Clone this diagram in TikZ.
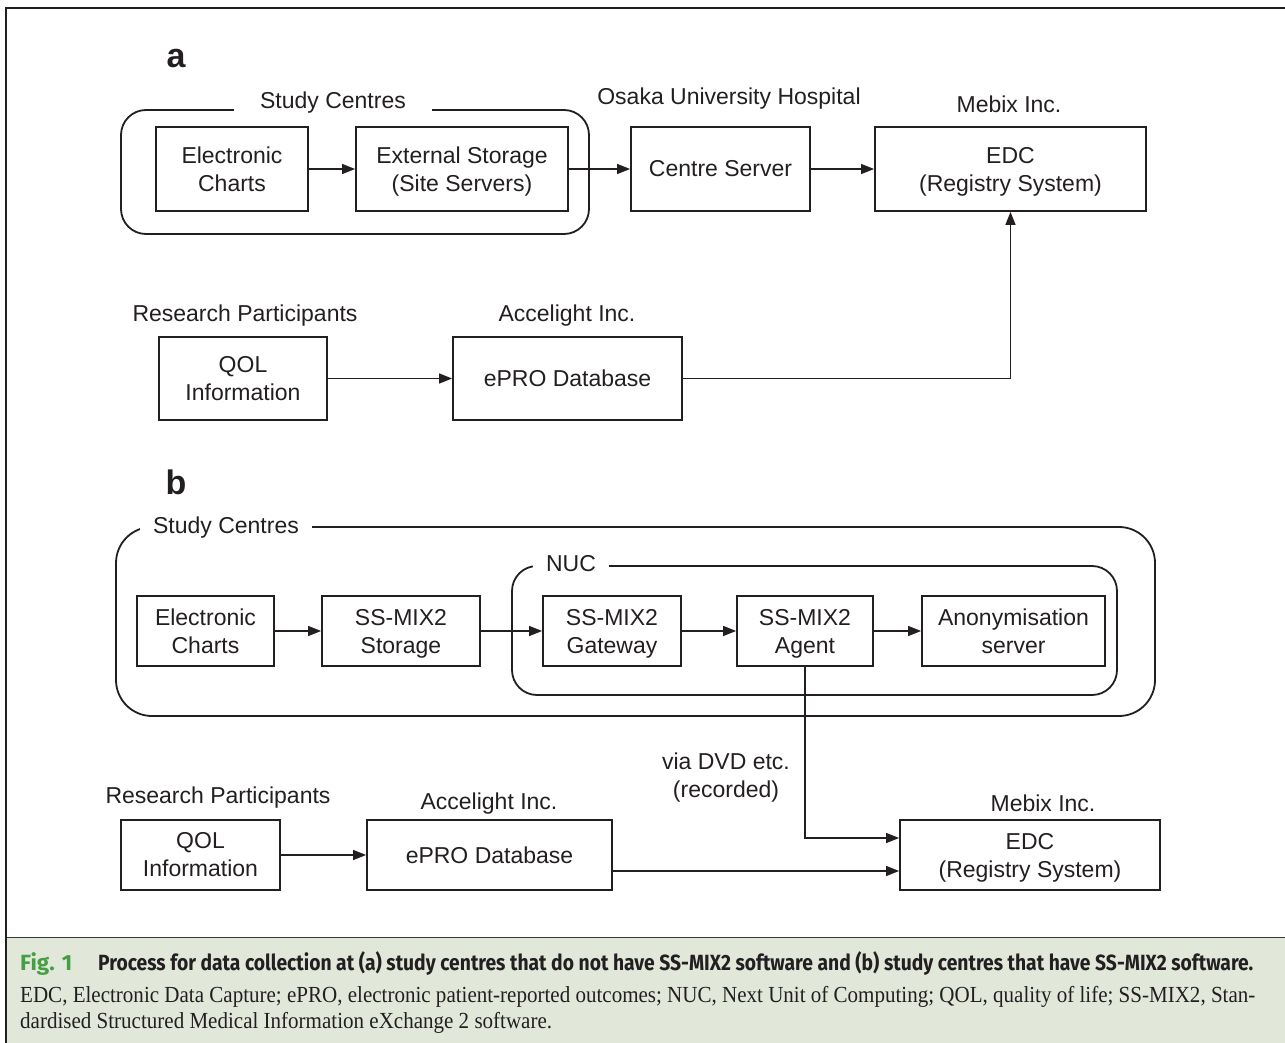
\documentclass[tikz,border=0pt]{standalone}
\usepackage{fontspec}
\usepackage{graphicx}
\setmainfont{Liberation Sans}
\newfontfamily\capserif{Liberation Serif}
\newfontfamily\capsans{Fira Sans}
\usetikzlibrary{arrows.meta}
\definecolor{capbg}{RGB}{225,232,218}
\definecolor{figgreen}{RGB}{70,158,68}
\definecolor{ink}{RGB}{35,31,32}
\newcommand\nodp[1]{\raisebox{0pt}[\height][0pt]{#1}}
\begin{document}
\begin{tikzpicture}[x=1pt,y=-1pt,
  every node/.style={text=ink},
  box/.style={draw=ink, line width=1.8pt, inner sep=0pt, align=center,
    font=\fontsize{23}{28}\selectfont},
  cont/.style={draw=ink, line width=1.8pt, inner sep=0pt, rounded corners=#1},
  lbl/.style={font=\fontsize{23}{28}\selectfont, inner sep=0pt, align=center},
  gaplbl/.style={lbl, fill=white, inner xsep=#1, inner ysep=2pt},
  panel/.style={font=\fontsize{34}{40}\selectfont\bfseries, inner sep=0pt, anchor=base},
  flow/.style={draw=ink, line width=1.4pt, -{Triangle[length=13pt,width=10pt]}}
]
\useasboundingbox (0,0) rectangle (1285,1043);
% frame and caption panel
\fill[capbg] (6,938) rectangle (1285,1043);
\draw[draw=ink!90, line width=1.2pt] (6,937.5) -- (1285,937.5);
\draw[draw=ink, line width=2pt] (1285,8) -- (6,8) -- (6,1043);

% ---------------- panel a ----------------
\node[panel] (pa) at (176,68) {a};
\node[cont=25pt, minimum width=468, minimum height=124] (scA) at (355,172) {};
\node[gaplbl=26pt] (scAl) at (333,103) {Study Centres};
\node[box, minimum width=152, minimum height=84] (ecA) at (232,169) {Electronic\\Charts};
\node[box, minimum width=212, minimum height=84] (esA) at (462,169) {External Storage\\\nodp{(Site Servers)}};
\node[lbl] (ouh) at (729,99) {Osaka University Hospital};
\node[box, minimum width=179, minimum height=84] (csA) at (720.5,169) {Centre Server};
\node[lbl] (mebA) at (1009,104) {Mebix Inc.};
\node[box, minimum width=271, minimum height=84] (edcA) at (1010.5,169) {EDC\\\nodp{(Registry System)}};
\node[lbl] (rpA) at (245,316) {Research Participants};
\node[box, minimum width=168, minimum height=83] (qolA) at (243,378.5) {QOL\\Information};
\node[lbl] (accA) at (567,316) {Accelight Inc.};
\node[box, minimum width=229, minimum height=83] (eproA) at (567.5,378.5) {\nodp{ePRO Database}};
\draw[flow] (ecA) -- (esA);
\draw[flow] (esA) -- (csA);
\draw[flow] (csA) -- (edcA);
\draw[flow] (qolA) -- (eproA);
\draw[flow] (eproA.east) -| (edcA.south);

% ---------------- panel b ----------------
\node[panel] (pb) at (176,494) {b};
\node[cont=36pt, minimum width=1039, minimum height=189] (scB) at (635.5,621.5) {};
\node[gaplbl=13pt] (scBl) at (226,528) {Study Centres};
\node[cont=25pt, minimum width=605, minimum height=129] (nuc) at (814.5,630.5) {};
\node[gaplbl=13pt] (nucl) at (571,564) {NUC};
\node[box, minimum width=137, minimum height=70] (ecB) at (205.5,631) {Electronic\\Charts};
\node[box, minimum width=158, minimum height=70] (ssst) at (401,631) {SS-MIX2\\\nodp{Storage}};
\node[box, minimum width=138, minimum height=70] (ssgw) at (612,631) {SS-MIX2\\\nodp{Gateway}};
\node[box, minimum width=136, minimum height=70] (ssag) at (805,631) {SS-MIX2\\\nodp{Agent}};
\node[box, minimum width=183, minimum height=70] (anon) at (1013.5,631) {Anonymisation\\server};
\node[lbl] (dvd) at (726,778) {via DVD etc.\\(recorded)};
\node[lbl] (rpB) at (218,798) {Research Participants};
\node[box, minimum width=159, minimum height=70] (qolB) at (200.5,855) {QOL\\Information};
\node[lbl] (accB) at (489,804) {Accelight Inc.};
\node[box, minimum width=245, minimum height=70] (eproB) at (489.5,855) {\nodp{ePRO Database}};
\node[lbl] (mebB) at (1043,803) {Mebix Inc.};
\node[box, minimum width=260, minimum height=70] (edcB) at (1030,855) {EDC\\\nodp{(Registry System)}};
\draw[flow] (ecB) -- (ssst);
\draw[flow] (ssst) -- (ssgw);
\draw[flow] (ssgw) -- (ssag);
\draw[flow] (ssag) -- (anon);
\draw[flow] (qolB) -- (eproB);
\draw[flow] (ssag.south) |- ([yshift=17pt]edcB.west);
\draw[flow] ([yshift=-16pt]eproB.east) -- ([yshift=-16pt]edcB.west);

% ---------------- caption ----------------
\node[anchor=base west, inner sep=0pt, text=figgreen] (figno) at (20,970)
  {\resizebox{52pt}{\height}{\fontsize{22}{24}\capsans\bfseries Fig. 1}};
\node[anchor=base west, inner sep=0pt] (captitle) at (98,970)
  {\resizebox{1155pt}{\height}{\fontsize{22}{24}\capsans\bfseries Process for data collection at (a) study centres that do not have SS-MIX2 software and (b) study centres that have SS-MIX2 software.}};
\node[anchor=base west, inner sep=0pt] (capbody) at (20,1002)
  {\resizebox{1235pt}{\height}{\fontsize{23}{26}\capserif\begin{tabular}[t]{@{}l@{}}EDC, Electronic Data Capture; ePRO, electronic patient-reported outcomes; NUC, Next Unit of Computing; QOL, quality of life; SS-MIX2, Stan-\\dardised Structured Medical Information eXchange 2 software.\end{tabular}}};
\end{tikzpicture}
\end{document}
